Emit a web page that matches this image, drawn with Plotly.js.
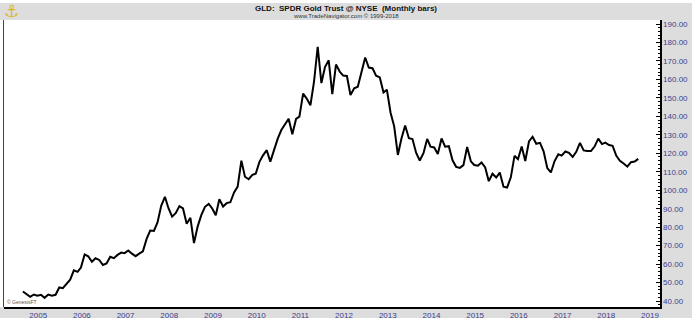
<!DOCTYPE html>
<html>
<head>
<meta charset="utf-8">
<script src="https://cdn.plot.ly/plotly-3.0.1.min.js"></script>
<style>html,body{margin:0;padding:0;background:#fff;}#chart{width:697px;height:325px;}</style>
</head>
<body>
<div id="chart"></div>
<script>
// GLD monthly closes, first value = Nov 2004
var startYear = 2004, startMonth = 11;
var gld2004 = [45.12, 43.80];
var gld2005 = [42.22, 43.52, 42.82, 43.35, 41.72, 43.51, 42.92, 43.38, 47.31, 46.92, 49.57, 51.58];
var gld2006 = [56.57, 55.79, 58.10, 65.20, 64.16, 61.23, 63.16, 62.24, 59.49, 60.29, 63.99, 63.21];
var gld2007 = [64.98, 66.22, 65.92, 67.35, 65.63, 64.27, 65.63, 66.89, 73.61, 78.16, 77.95, 82.58];
var gld2008 = [91.55, 96.45, 90.40, 85.70, 87.56, 91.40, 90.13, 81.86, 85.05, 71.34, 80.44, 86.52];
var gld2009 = [91.03, 92.61, 90.26, 86.45, 95.16, 91.17, 93.00, 93.49, 98.84, 101.97, 116.04, 107.31];
var gld2010 = [105.96, 108.35, 108.95, 115.36, 118.88, 121.68, 115.49, 121.98, 127.91, 132.62, 135.42, 138.72];
var gld2011 = [130.32, 138.63, 139.86, 152.37, 149.64, 146.00, 158.63, 177.72, 158.06, 166.72, 170.36, 151.99];
var gld2012 = [168.07, 164.27, 162.12, 161.88, 151.60, 155.19, 156.03, 163.63, 171.89, 166.45, 166.07, 162.02];
var gld2013 = [161.11, 152.94, 154.45, 141.95, 134.69, 119.11, 127.96, 135.07, 128.18, 127.74, 120.15, 116.12];
var gld2014 = [120.09, 127.80, 123.61, 123.18, 119.58, 128.04, 123.55, 123.86, 116.21, 112.66, 112.11, 113.58];
var gld2015 = [123.45, 115.63, 113.66, 113.27, 115.06, 112.37, 104.91, 108.90, 106.86, 109.54, 101.92, 101.46];
var gld2016 = [106.97, 118.64, 116.79, 123.65, 115.82, 126.47, 128.98, 125.14, 125.64, 121.07, 112.01, 109.61];
var gld2017 = [115.80, 119.47, 118.72, 120.98, 120.24, 118.02, 120.78, 125.64, 121.58, 121.20, 121.19, 123.65];
var gld2018 = [127.94, 125.00, 125.79, 124.47, 124.02, 118.65, 115.98, 114.52, 112.76, 115.20, 115.50, 117.00];

var yearLabels = ['2005','2006','2007','2008','2009','2010','2011','2012','2013','2014','2015','2016','2017','2018','2019'];

var closes = [].concat(gld2004, gld2005, gld2006, gld2007, gld2008, gld2009, gld2010,
  gld2011, gld2012, gld2013, gld2014, gld2015, gld2016, gld2017, gld2018);

function pad(n){ return (n < 10 ? '0' : '') + n; }
var dates = [];
var y = startYear, m = startMonth;
for (var i = 0; i < closes.length; i++) {
  dates.push(y + '-' + pad(m) + '-01');
  m++; if (m > 12) { m = 1; y++; }
}
var tickVals = yearLabels.map(function(s){ return s + '-01-01'; });

// pixel -> paper helpers (plot area x 4..660, y 20..307)
var L = 4, R = 660, T = 20, B = 307;
function px(x){ return (x - L) / (R - L); }
function py(yy){ return (B - yy) / (B - T); }

var gray = '#dddddd';
var labelColor = '#3d3d8f';

var trace = {
  x: dates, y: closes, type: 'scatter', mode: 'lines',
  line: {color: '#000000', width: 2}, hoverinfo: 'skip'
};

var layout = {
  width: 697, height: 325,
  margin: {l: L, r: 697 - R, t: T, b: 325 - B, pad: 0},
  paper_bgcolor: '#ffffff', plot_bgcolor: '#ffffff',
  showlegend: false,
  font: {family: 'Liberation Sans, Arial, sans-serif', size: 8, color: labelColor},
  xaxis: {
    type: 'date', range: ['2004-05-27', '2019-06-01'],
    tickmode: 'array', tickvals: tickVals, ticktext: yearLabels,
    ticklabelshift: 8, ticks: '', showgrid: false, zeroline: false,
    showline: true, linecolor: '#000000', linewidth: 1.5,
    tickfont: {size: 8, color: labelColor}, fixedrange: true
  },
  yaxis: {
    side: 'right', range: [36.75, 192.2],
    tickmode: 'linear', tick0: 40, dtick: 10, tickformat: '.2f',
    ticks: 'inside', ticklen: 4, tickcolor: '#000000', tickwidth: 1,
    minor: {tick0: 40, dtick: 2, ticks: 'inside', ticklen: 2, tickcolor: '#000000', tickwidth: 1, showgrid: false},
    showgrid: false, zeroline: false,
    showline: true, linecolor: '#000000', linewidth: 1.5,
    tickfont: {size: 8, color: labelColor}, fixedrange: true
  },
  shapes: [
    {type: 'rect', xref: 'paper', yref: 'paper', x0: px(0), x1: px(684), y0: py(20), y1: py(3),
     fillcolor: gray, line: {width: 0}, layer: 'below'},
    {type: 'rect', xref: 'paper', yref: 'paper', x0: px(660), x1: px(692), y0: py(318), y1: py(3),
     fillcolor: gray, line: {width: 0}, layer: 'below'},
    {type: 'rect', xref: 'paper', yref: 'paper', x0: px(0), x1: px(692), y0: py(318), y1: py(307),
     fillcolor: gray, line: {width: 0}, layer: 'below'},
    {type: 'line', xref: 'paper', yref: 'paper', x0: px(3.5), x1: px(3.5), y0: py(307), y1: py(20),
     line: {color: '#444444', width: 1}}
  ],
  annotations: [
    {xref: 'paper', yref: 'paper', x: px(346), y: py(8.5), xanchor: 'center', yanchor: 'middle',
     text: '<b>GLD:  SPDR Gold Trust @ NYSE  (Monthly bars)</b>', showarrow: false,
     font: {size: 8, color: '#111111', family: 'Liberation Sans, Arial, sans-serif'}},
    {xref: 'paper', yref: 'paper', x: px(346), y: py(15.5), xanchor: 'center', yanchor: 'middle',
     text: 'www.TradeNavigator.com © 1999-2018', showarrow: false,
     font: {size: 6, color: '#333333', family: 'Liberation Sans, Arial, sans-serif'}},
    {xref: 'paper', yref: 'paper', x: px(5), y: py(302), xanchor: 'left', yanchor: 'middle',
     text: '© GenesisFT', showarrow: false,
     font: {size: 5, color: '#555555', family: 'Liberation Sans, Arial, sans-serif'}},
    {xref: 'paper', yref: 'paper', x: px(11), y: py(11), xanchor: 'center', yanchor: 'middle',
     text: '⚓', showarrow: false,
     font: {size: 17, color: '#d9b830', family: 'DejaVu Sans'}}
  ]
};

Plotly.newPlot('chart', [trace], layout, {displayModeBar: false, staticPlot: true});
</script>
</body>
</html>
